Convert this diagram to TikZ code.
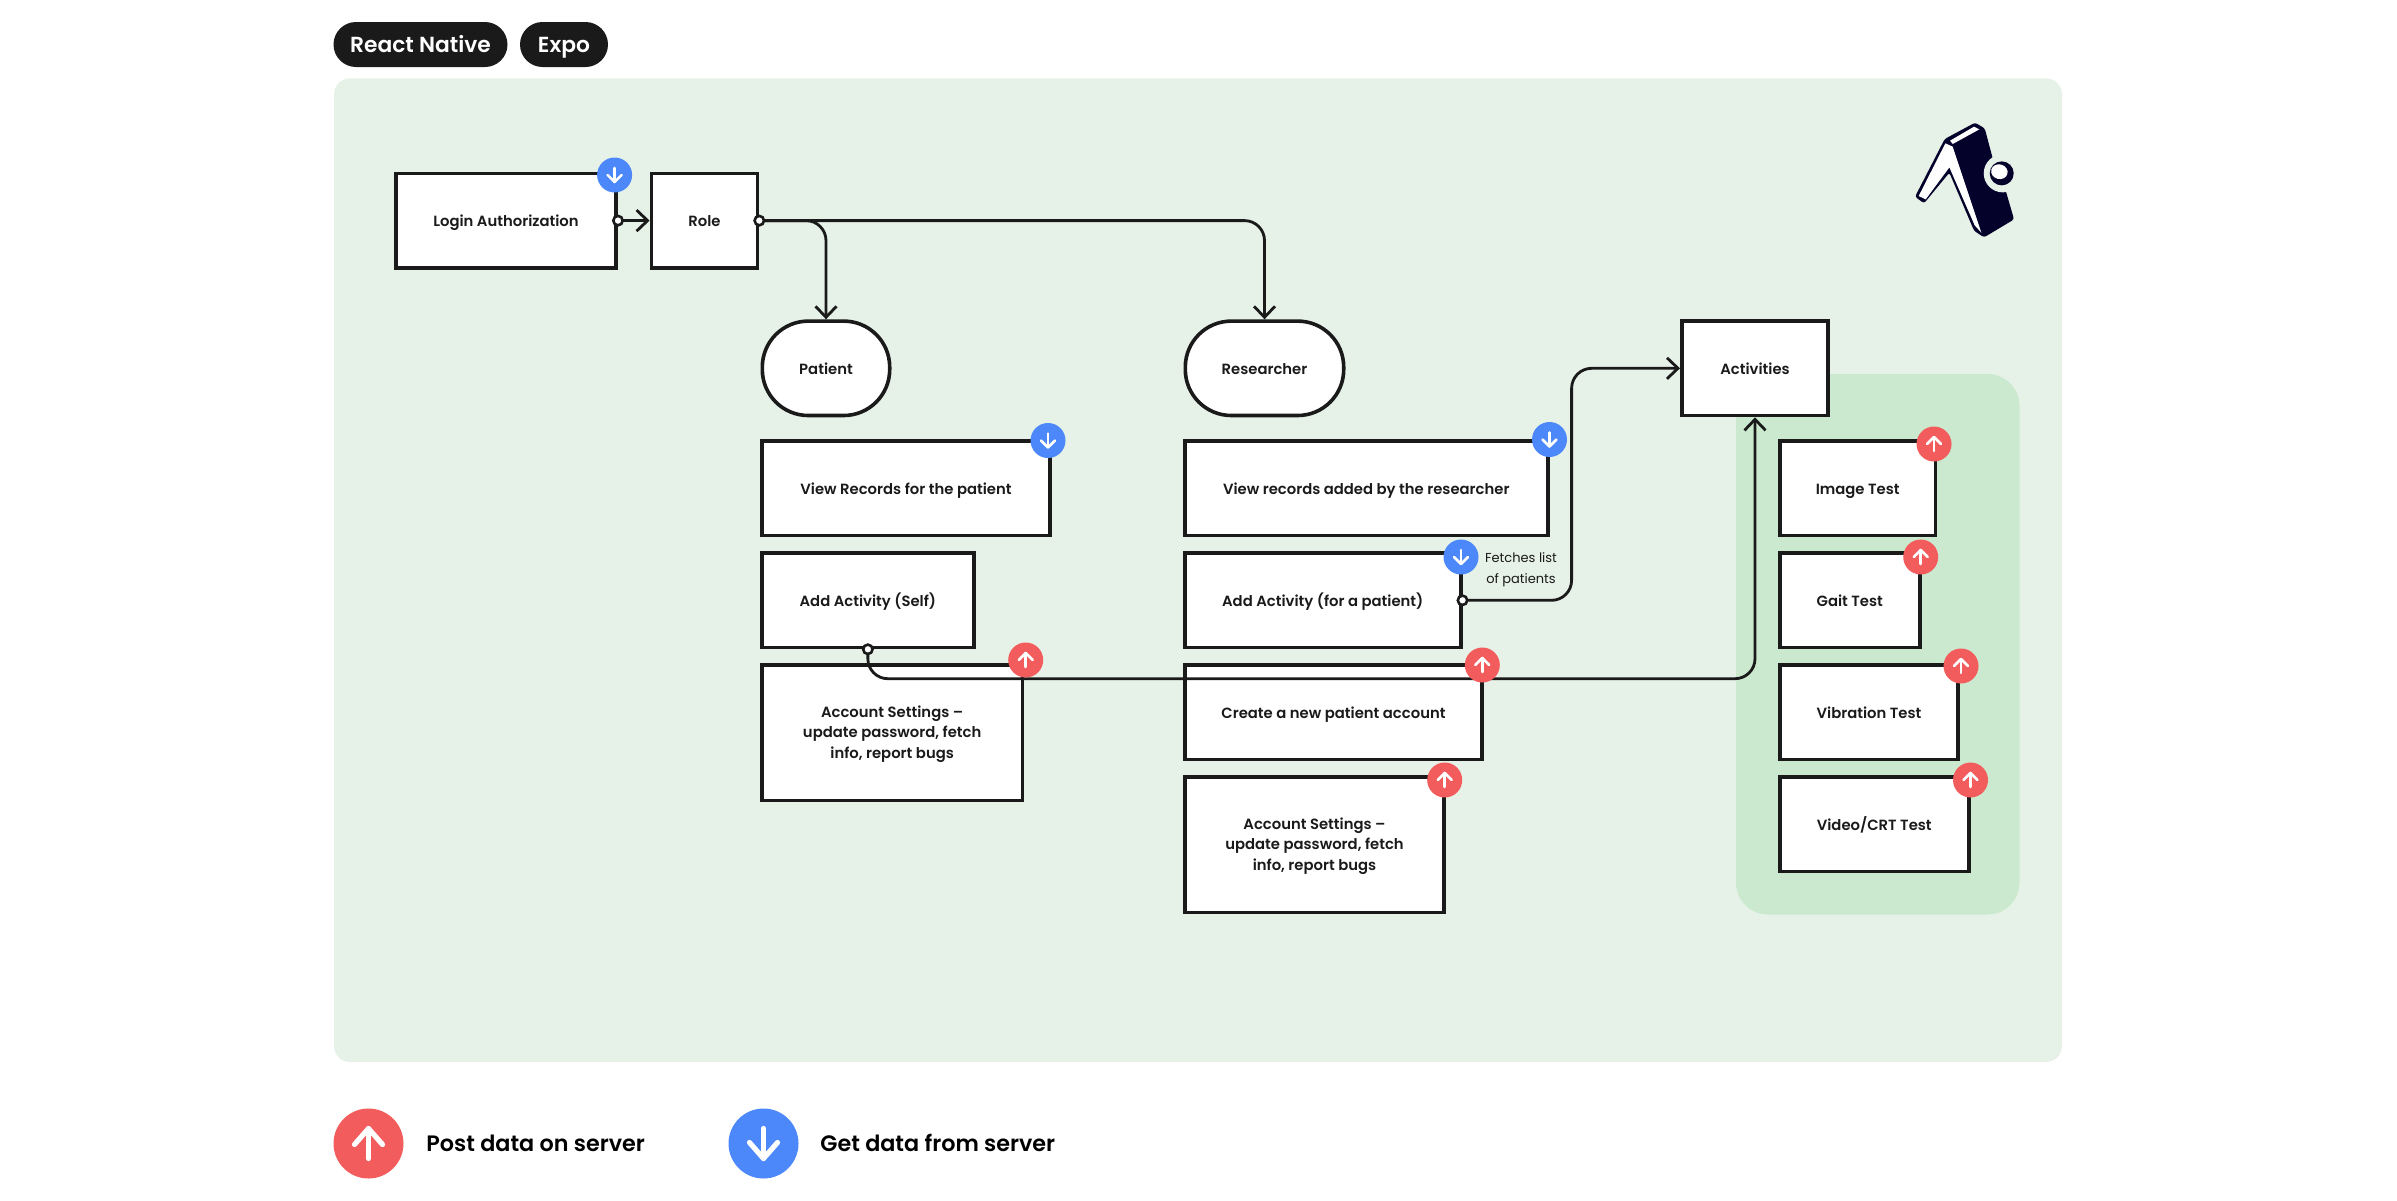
\documentclass[tikz,border=0pt]{standalone}
\usepackage{fontspec}
\setmainfont{Poppins SemiBold}
\newfontfamily\lightfont{Poppins}
\usetikzlibrary{arrows.meta,calc}
\definecolor{panelgreen}{HTML}{E6F1E7}
\definecolor{groupgreen}{HTML}{CBE9CE}
\definecolor{inkblack}{HTML}{1A1A1A}
\definecolor{postred}{HTML}{F25C5C}
\definecolor{getblue}{HTML}{4C88F9}
\definecolor{logonavy}{HTML}{04012B}
\tikzset{
  boxline/.style={draw=inkblack,line width=1.8pt,fill=white,inner sep=0pt},
  stadium/.style={boxline,rounded corners=23pt},
  boxtext/.style={text=inkblack,inner sep=0pt,outer sep=0pt,align=center,
    font=\fontsize{7.4}{10.3}\selectfont},
  oneline/.style={text height=6pt,text depth=0pt},
  conn/.style={draw=inkblack,line width=1.4pt,rounded corners=10pt},
  chev/.style={-{Straight Barb[length=5.5pt,width=10.5pt,line width=1.4pt]}},
  dotn/.style={circle,draw=inkblack,line width=1.3pt,fill=white,minimum size=4.7pt,inner sep=0pt},
  badge/.style={circle,minimum size=17.5pt,inner sep=0pt,draw=none},
  bigbadge/.style={circle,minimum size=35pt,inner sep=0pt,draw=none},
  glyph/.style={draw=white,line width=1.3pt,line cap=round,line join=round},
  bigglyph/.style={draw=white,line width=2.6pt,line cap=round,line join=round},
  pill/.style={fill=inkblack,text=white,rounded corners=11.25pt,minimum height=22.5pt,inner sep=0pt,
    text height=8pt,text depth=0.3pt,font=\fontsize{10.9}{12}\selectfont},
  legendtext/.style={text=black,anchor=west,inner sep=0pt,text height=8pt,text depth=0.3pt,font=\fontsize{11.15}{12}\selectfont},
  notetext/.style={text=inkblack,align=center,inner sep=0pt,font=\lightfont\fontsize{6.5}{10.3}\selectfont},
}
% name, x1, y1, x2, y2 (outer edges, px), text
\newcommand{\bx}[6]{%
  \node[boxline,minimum width={(#4-#2-3.6)*0.5pt},minimum height={(#5-#3-3.6)*0.5pt}] (#1) at ({(#2+#4)/2},{(#3+#5)/2}) {};
  \node[boxtext,oneline] (#1-t) at (#1.center) {#6};}
\newcommand{\bxm}[6]{%
  \node[boxline,minimum width={(#4-#2-3.6)*0.5pt},minimum height={(#5-#3-3.6)*0.5pt}] (#1) at ({(#2+#4)/2},{(#3+#5)/2}) {};
  \node[boxtext] (#1-t) at ([yshift=-0.7pt]#1.center) {#6};}
\newcommand{\st}[6]{%
  \node[stadium,minimum width={(#4-#2-3.6)*0.5pt},minimum height={(#5-#3-3.6)*0.5pt}] (#1) at ({(#2+#4)/2},{(#3+#5)/2}) {};
  \node[boxtext,oneline] (#1-t) at (#1.center) {#6};}
\newcommand{\upb}[3]{%
  \node[badge,fill=postred] (#1) at (#2,#3) {};
  \draw[glyph] ([shift={(0,7)}]#1.center) -- ([shift={(0,-7)}]#1.center);
  \draw[glyph] ([shift={(-7,0)}]#1.center) -- ([shift={(0,-7)}]#1.center) -- ([shift={(7,0)}]#1.center);}
\newcommand{\dnb}[3]{%
  \node[badge,fill=getblue] (#1) at (#2,#3) {};
  \draw[glyph] ([shift={(0,-7)}]#1.center) -- ([shift={(0,7)}]#1.center);
  \draw[glyph] ([shift={(-7,0)}]#1.center) -- ([shift={(0,7)}]#1.center) -- ([shift={(7,0)}]#1.center);}
\begin{document}
\begin{tikzpicture}[x=0.5pt,y=-0.5pt]
\useasboundingbox (0,0) rectangle (2397,1200);
% panels
\fill[panelgreen,rounded corners=8pt] (334,78.3) rectangle (2062,1062);
\fill[groupgreen,rounded corners=16pt] (1736,374) rectangle (2019.5,914.5);
% pills
\node[pill,minimum width=87pt] (rn) at (420.5,44.5) {React Native};
\node[pill,minimum width=44pt] (expo) at (564,44.5) {Expo};
% logo
\begin{scope}[shift={(1860,90)},x=0.1667pt,y=-0.1667pt]
\fill[logonavy,rounded corners=1.2pt] (165,320) -- (254,147) -- (345,98) -- (374,115) -- (398,205) -- (435,295) -- (462,388) -- (372,442) -- (342,422) -- (268,248) -- (192,340) -- cycle;
\fill[white] (176,318) -- (256,160) -- (278,170) -- (364,428) -- (344,406) -- (268,232) -- (197,328) -- cycle;
\fill[white] (270,152) -- (342,110) -- (358,118) -- (278,162) -- cycle;
\fill[panelgreen] (428,250) circle (57);
\fill[logonavy] (425,250) circle (36);
\fill[white,rotate around={-15:(418,245)}] (418,245) ellipse (25 and 22);
\end{scope}
% boxes
\bx{login}{394}{171.7}{618}{269.5}{Login Authorization}
\bx{role}{649.6}{171.7}{759.3}{269.5}{Role}
\st{patient}{760.5}{319.3}{891.5}{417.3}{Patient}
\st{researcher}{1183.5}{319.3}{1345.5}{417.3}{Researcher}
\bx{activities}{1680}{319.3}{1830}{417.3}{Activities}
\bx{viewp}{760}{439.3}{1052}{537.3}{View Records for the patient}
\bx{self}{760}{551.3}{975.7}{649.3}{Add Activity (Self)}
\bxm{acctp}{760}{663.3}{1024.3}{802.3}{Account Settings --\\update password, fetch\\info, report bugs}
\bx{viewr}{1183}{439.3}{1549.5}{537.3}{View records added by the researcher}
\bx{addr}{1183}{551.3}{1462.5}{649.3}{Add Activity (for a patient)}
\bx{create}{1183}{663.3}{1484}{761.3}{Create a new patient account}
\bxm{acctr}{1183}{775.3}{1446}{914.3}{Account Settings --\\update password, fetch\\info, report bugs}
\bx{image}{1778}{439.3}{1937.3}{537.3}{Image Test}
\bx{gait}{1778}{551.3}{1921.5}{649.3}{Gait Test}
\bx{vib}{1778}{663.3}{1960}{761.3}{Vibration Test}
\bx{video}{1778}{775.3}{1970.5}{873.3}{Video/CRT Test}
% connectors
\coordinate (busy) at (0,678.7);
\coordinate (fetchv) at (1571.6,0);
\coordinate (actin) at (0,368.3);
\draw[conn,chev] (login.east) -- (role.west);
\draw[conn,chev] (role.east) -| (patient.north);
\draw[conn,chev] (role.east) -| (researcher.north);
\draw[conn,chev] (addr.east) -| (fetchv |- actin) -- (activities.west);
\draw[conn,chev] (self.south) |- (activities.south |- busy) -- (activities.south);
\node[dotn] (d1) at (login.east) {};
\node[dotn] (d2) at (role.east) {};
\node[dotn] (d3) at (addr.east) {};
\node[dotn] (d4) at (self.south) {};
% note
\node[notetext] (note) at (1521,570) {Fetches list\\of patients};
% badges
\dnb{b1}{614.6}{175}
\dnb{b2}{1048}{440.5}
\dnb{b3}{1549.5}{439.5}
\dnb{b4}{1461}{557}
\upb{b5}{1025.7}{660}
\upb{b6}{1482.3}{665}
\upb{b7}{1444.7}{780}
\upb{b8}{1934}{444}
\upb{b9}{1920.7}{557}
\upb{b10}{1961}{666}
\upb{b11}{1970.5}{780}
% legend
\node[bigbadge,fill=postred] (lp) at (368.5,1143.5) {};
\draw[bigglyph] ([shift={(0,15)}]lp.center) -- ([shift={(0,-15)}]lp.center);
\draw[bigglyph] ([shift={(-14,1)}]lp.center) -- ([shift={(0,-15)}]lp.center) -- ([shift={(14,1)}]lp.center);
\node[legendtext] (lpt) at (426,1143.5) {Post data on server};
\node[bigbadge,fill=getblue] (lg) at (763.5,1143.5) {};
\draw[bigglyph] ([shift={(0,-15)}]lg.center) -- ([shift={(0,15)}]lg.center);
\draw[bigglyph] ([shift={(-14,-1)}]lg.center) -- ([shift={(0,15)}]lg.center) -- ([shift={(14,-1)}]lg.center);
\node[legendtext] (lgt) at (820,1143.5) {Get data from server};
\end{tikzpicture}
\end{document}
